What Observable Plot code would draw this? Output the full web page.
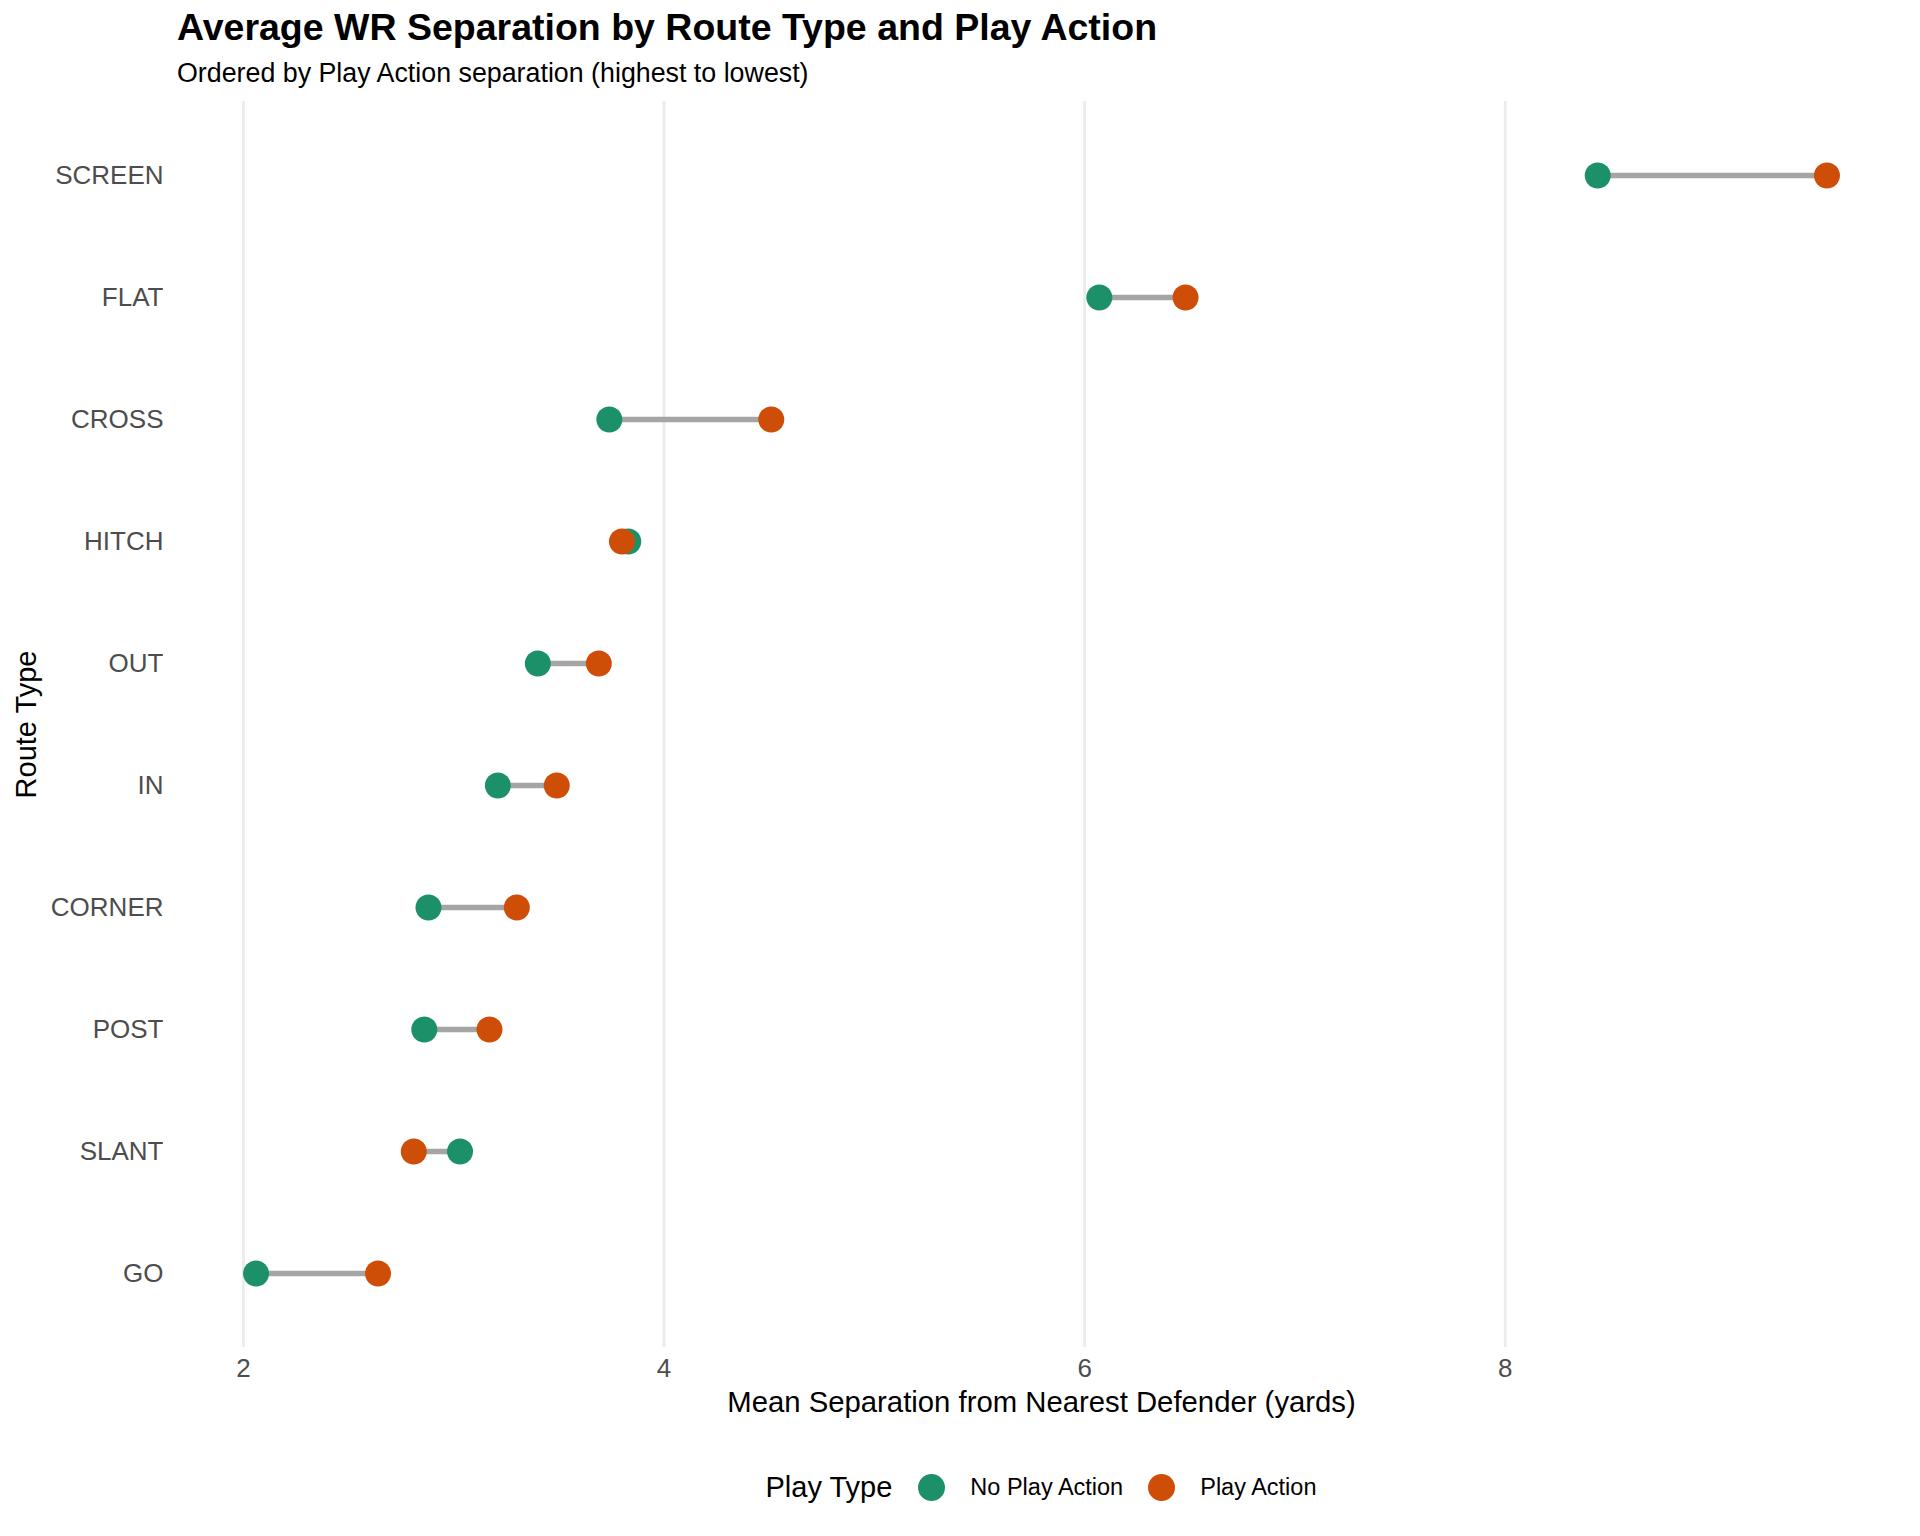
<!DOCTYPE html>
<html>
<head>
<meta charset="utf-8">
<script src="https://cdn.jsdelivr.net/npm/d3@7"></script>
<script src="https://cdn.jsdelivr.net/npm/@observablehq/plot@0.6"></script>
<style>
  body { margin: 0; background: #fff; font-family: "Liberation Sans", Arial, Helvetica, sans-serif; }
  #wrap { width: 1920px; height: 1536px; position: relative; background: #fff; }
  #head { position: relative; height: 95px; }
  #title { position: absolute; left: 177px; top: 9px; font-size: 37.5px; line-height: 37.5px; font-weight: bold; color: #000; white-space: nowrap; }
  #subtitle { position: absolute; left: 177px; top: 59.5px; font-size: 26.8px; line-height: 26.8px; color: #000; white-space: nowrap; }
  #chart svg { display: block; }
  #legend { display: flex; align-items: center; justify-content: center; height: 104px; width: 1920px; padding-left: 177px; padding-right: 15px; box-sizing: border-box; color: #000; }
  #legend .ltitle { font-size: 29px; margin-right: 26px; }
  #legend .sw { display: block; }
  #legend .lab { font-size: 23.5px; margin-left: 25px; margin-right: 25px; }
  #legend .lab:last-child { margin-right: 0; }
</style>
</head>
<body>
<div id="wrap">
  <div id="head">
    <div id="title">Average WR Separation by Route Type and Play Action</div>
    <div id="subtitle">Ordered by Play Action separation (highest to lowest)</div>
  </div>
  <div id="chart"></div>
  <div id="legend"></div>
</div>
<script>
const routes = ["SCREEN", "FLAT", "CROSS", "HITCH", "OUT", "IN", "CORNER", "POST", "SLANT", "GO"];
const noPlayAction = [8.44, 6.07, 3.74, 3.83, 3.40, 3.21, 2.88, 2.86, 3.03, 2.06];
const playAction   = [9.53, 6.48, 4.51, 3.80, 3.69, 3.49, 3.30, 3.17, 2.81, 2.64];
const playTypes = ["No Play Action", "Play Action"];
const playColors = ["#1C9169", "#CF4E07"];
const xTicks = [2, 4, 6, 8];
const xTitle = "Mean Separation from Nearest Defender (yards)";
const yTitle = "Route Type";
const legendTitle = "Play Type";

const pairs = routes.map((r, i) => ({route: r, no: noPlayAction[i], pa: playAction[i]}));
const long = [
  ...routes.map((r, i) => ({route: r, type: playTypes[0], sep: noPlayAction[i]})),
  ...routes.map((r, i) => ({route: r, type: playTypes[1], sep: playAction[i]}))
];
const [mn, mx] = d3.extent(noPlayAction.concat(playAction));
const pad = (mx - mn) * 0.05;
const font = '"Liberation Sans", Arial, Helvetica, sans-serif';

const chart = Plot.plot({
  width: 1920,
  height: 1340,
  marginTop: 6,
  marginLeft: 177,
  marginRight: 15,
  marginBottom: 88,
  style: {fontFamily: font, background: "#fff", overflow: "visible"},
  x: {domain: [mn - pad, mx + pad]},
  y: {type: "point", domain: routes, padding: 0.6},
  color: {domain: playTypes, range: playColors},
  marks: [
    Plot.gridX(xTicks, {stroke: "#EBEBEB", strokeOpacity: 1, strokeWidth: 2.7}),
    Plot.ruleY(pairs, {y: "route", x1: "no", x2: "pa", stroke: "#A5A5A5", strokeWidth: 5.5}),
    Plot.dot(long, {x: "sep", y: "route", fill: "type", r: 13}),
    Plot.axisX({ticks: xTicks, tickSize: 0, tickPadding: 11.5, fontSize: 26, fill: "#4D4D4D", label: null}),
    Plot.axisX({ticks: [], tickSize: 0, label: xTitle, labelAnchor: "center", labelOffset: 64, labelArrow: "none", fontSize: 29.3, fill: "#000"}),
    Plot.axisY({tickSize: 0, tickPadding: 14, fontSize: 26, fill: "#4D4D4D", label: null}),
    Plot.axisY({ticks: [], tickSize: 0, label: yTitle, labelAnchor: "center", labelOffset: 162, labelArrow: "none", fontSize: 29, fill: "#000"})
  ]
});
document.getElementById("chart").appendChild(chart);

const legend = document.getElementById("legend");
const lt = document.createElement("span");
lt.className = "ltitle";
lt.textContent = legendTitle;
legend.appendChild(lt);
playTypes.forEach((t, i) => {
  const ns = "http://www.w3.org/2000/svg";
  const s = document.createElementNS(ns, "svg");
  s.setAttribute("width", 27); s.setAttribute("height", 27); s.setAttribute("class", "sw");
  const c = document.createElementNS(ns, "circle");
  c.setAttribute("cx", 13.5); c.setAttribute("cy", 13.5); c.setAttribute("r", 13.5);
  c.setAttribute("fill", playColors[i]);
  s.appendChild(c);
  legend.appendChild(s);
  const l = document.createElement("span");
  l.className = "lab";
  l.textContent = t;
  legend.appendChild(l);
});
</script>
</body>
</html>
